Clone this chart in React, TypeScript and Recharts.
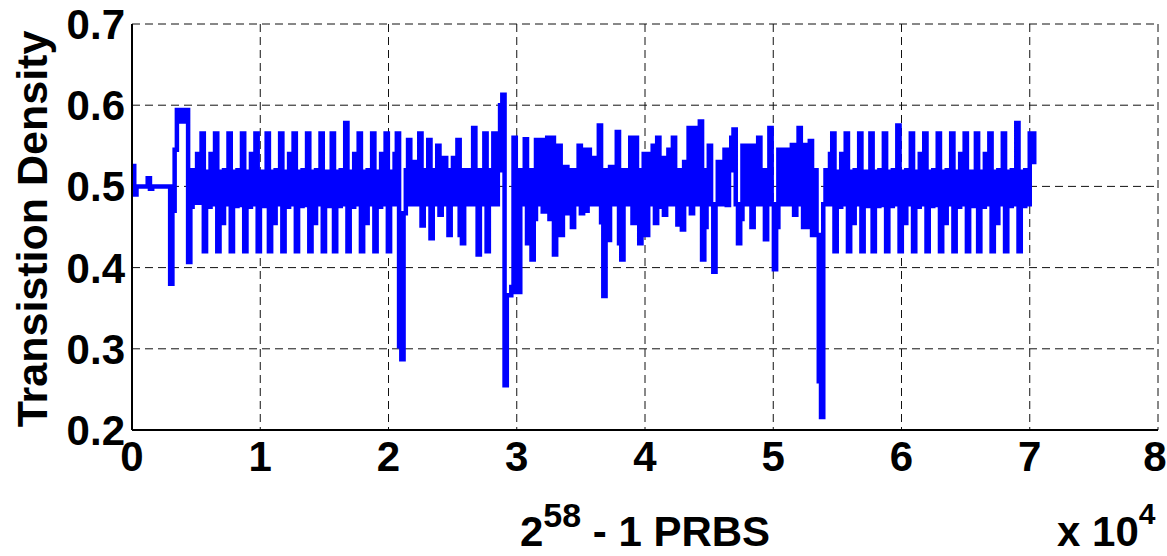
import React from 'react';
import { LineChart, Line, XAxis, YAxis, CartesianGrid, Label } from 'recharts';

// sample spacing along the PRBS axis (bits per sample)
const SAMPLE_STEP = 175;

// 0 .. ~5.4k : start-up region
const START_VALUES = [
  0.525, 0.49, 0.5, 0.5, 0.5, 0.5, 0.5, 0.51, 0.497, 0.5,
  0.5, 0.5, 0.5, 0.5, 0.5, 0.5, 0.5, 0.38, 0.47, 0.545,
  0.594, 0.594, 0.58, 0.58, 0.594, 0.407, 0.475, 0.52, 0.48, 0.54,
  0.48, 0.565,
];

// ~5.6k .. ~20k : regular teeth
const REGULAR_TEETH_A = [
  0.42, 0.518, 0.475, 0.54, 0.478, 0.565,
  0.42, 0.518, 0.455, 0.52, 0.478, 0.565,
  0.42, 0.518, 0.476, 0.52, 0.477, 0.565,
  0.42, 0.518, 0.475, 0.54, 0.478, 0.565,
  0.42, 0.518, 0.476, 0.518, 0.565,
  0.42, 0.518, 0.455, 0.52, 0.478, 0.565,
  0.42, 0.518, 0.475, 0.54, 0.478, 0.565,
  0.42, 0.518, 0.476, 0.52, 0.477, 0.565,
  0.42, 0.518, 0.455, 0.52, 0.478, 0.565,
  0.42, 0.518, 0.476, 0.518, 0.565,
  0.42, 0.518, 0.476, 0.52, 0.478, 0.578,
  0.42, 0.518, 0.475, 0.54, 0.478, 0.565,
  0.42, 0.518, 0.455, 0.52, 0.478, 0.565,
  0.42, 0.518, 0.475, 0.54, 0.478, 0.565,
  0.42,
];

// ~20k .. ~54.6k : irregular region
const IRREGULAR_VALUES = [
  0.518, 0.478, 0.54, 0.565, 0.303, 0.287, 0.467, 0.52, 0.557, 0.478,
  0.53, 0.478, 0.52, 0.565, 0.452, 0.52, 0.478, 0.557, 0.436, 0.52,
  0.478, 0.55, 0.465, 0.52, 0.535, 0.478, 0.44, 0.52, 0.535, 0.478,
  0.557, 0.44, 0.43, 0.52, 0.478, 0.52, 0.478, 0.572, 0.478, 0.416,
  0.52, 0.478, 0.565, 0.42, 0.52, 0.478, 0.565, 0.478, 0.52, 0.6,
  0.613, 0.255, 0.366, 0.366, 0.376, 0.56, 0.37, 0.37, 0.52, 0.478,
  0.558, 0.43, 0.52, 0.41, 0.46, 0.557, 0.478, 0.557, 0.469, 0.52,
  0.56, 0.46, 0.56, 0.416, 0.47, 0.55, 0.44, 0.52, 0.524, 0.467,
  0.52, 0.45, 0.52, 0.478, 0.55, 0.467, 0.545, 0.47, 0.545, 0.478,
  0.535, 0.478, 0.52, 0.575, 0.456, 0.365, 0.52, 0.434, 0.524, 0.478,
  0.52, 0.567, 0.43, 0.41, 0.52, 0.478, 0.52, 0.56, 0.455, 0.56,
  0.478, 0.43, 0.52, 0.54, 0.44, 0.54, 0.478, 0.55, 0.455, 0.56,
  0.475, 0.535, 0.465, 0.52, 0.545, 0.478, 0.56, 0.478, 0.453, 0.52,
  0.447, 0.53, 0.478, 0.572, 0.467, 0.572, 0.478, 0.55, 0.58, 0.41,
  0.45, 0.52, 0.55, 0.478, 0.395, 0.478, 0.53, 0.478, 0.52, 0.545,
  0.477, 0.52, 0.56, 0.57, 0.478, 0.43, 0.46, 0.55, 0.478, 0.52,
  0.55, 0.45, 0.55, 0.478, 0.56, 0.478, 0.52, 0.435, 0.52, 0.572,
  0.478, 0.398, 0.45, 0.545, 0.478, 0.545, 0.478, 0.545, 0.478, 0.551,
  0.465, 0.52, 0.572, 0.478, 0.45, 0.551, 0.45, 0.556, 0.44, 0.52,
  0.44, 0.26, 0.216, 0.478, 0.52, 0.478, 0.54, 0.565,
];

// ~54.8k .. ~70.5k : regular teeth
const REGULAR_TEETH_B = [
  0.42, 0.518, 0.475, 0.54, 0.478, 0.565,
  0.42, 0.518, 0.455, 0.52, 0.478, 0.565,
  0.42, 0.518, 0.476, 0.518, 0.565,
  0.42, 0.518, 0.476, 0.52, 0.477, 0.565,
  0.42, 0.518, 0.476, 0.52, 0.478, 0.575,
  0.42, 0.518, 0.455, 0.52, 0.478, 0.565,
  0.42, 0.518, 0.475, 0.54, 0.478, 0.565,
  0.42, 0.518, 0.476, 0.52, 0.477, 0.565,
  0.42, 0.518, 0.455, 0.52, 0.478, 0.565,
  0.42, 0.518, 0.475, 0.54, 0.478, 0.565,
  0.42, 0.518, 0.476, 0.518, 0.565,
  0.42, 0.518, 0.475, 0.54, 0.478, 0.565,
  0.42, 0.518, 0.455, 0.52, 0.478, 0.565,
  0.42, 0.518, 0.476, 0.52, 0.478, 0.578,
  0.42, 0.518, 0.476, 0.52, 0.478, 0.565, 0.565, 0.53, 0.53,
];

const X_TICKS = [0, 10000, 20000, 30000, 40000, 50000, 60000, 70000, 80000];
const X_TICK_LABELS = ['0', '1', '2', '3', '4', '5', '6', '7', '8'];
const Y_TICKS = [0.2, 0.3, 0.4, 0.5, 0.6, 0.7];
const Y_TICK_LABELS = ['0.2', '0.3', '0.4', '0.5', '0.6', '0.7'];

const Y_TITLE = 'Transistion Density';
const X_TITLE_BASE = '2';
const X_TITLE_SUP = '58';
const X_TITLE_REST = ' - 1 PRBS';
const X_SCALE_BASE = 'x 10';
const X_SCALE_SUP = '4';

const ALL_VALUES = [...START_VALUES, ...REGULAR_TEETH_A, ...IRREGULAR_VALUES, ...REGULAR_TEETH_B];
const data = ALL_VALUES.map((v, i) => ({ x: i * SAMPLE_STEP, y: v }));

const FONT = '"Liberation Sans", Arial, Helvetica, sans-serif';
const tickStyle = { fontSize: 42, fontWeight: 'bold', fill: '#000', fontFamily: FONT };

const XTick = (props: any) => {
  const { x, y, payload } = props;
  const label = X_TICK_LABELS[X_TICKS.indexOf(payload.value)];
  const last = payload.value === X_TICKS[X_TICKS.length - 1];
  return (
    <text x={last ? x - 3 : x} y={y} dy="0.71em" textAnchor="middle" {...tickStyle}>
      {label}
    </text>
  );
};

const XTitle = (props: any) => {
  const vb = props.viewBox || { x: 132, y: 430, width: 1026, height: 126 };
  const cx = vb.x + vb.width / 2;
  const by = vb.y + vb.height - 10;
  return (
    <g>
      <text x={cx} y={by} textAnchor="middle" fontFamily={FONT} fontWeight="bold" fontSize={42} fill="#000">
        <tspan>{X_TITLE_BASE}</tspan>
        <tspan fontSize={34} dy={-19}>{X_TITLE_SUP}</tspan>
        <tspan fontSize={42} dy={19}>{X_TITLE_REST}</tspan>
      </text>
      <text x={vb.x + vb.width - 101} y={by} textAnchor="start" fontFamily={FONT} fontWeight="bold" fontSize={42} fill="#000">
        <tspan>{X_SCALE_BASE}</tspan>
        <tspan fontSize={30} dy={-22}>{X_SCALE_SUP}</tspan>
      </text>
    </g>
  );
};

const YTitle = (props: any) => {
  const vb = props.viewBox || { x: 0, y: 24, width: 132, height: 406 };
  const cx = vb.x + 47;
  const cy = vb.y + vb.height / 2 + 2;
  return (
    <text x={cx} y={cy} transform={`rotate(-90, ${cx}, ${cy})`} textAnchor="middle" fontFamily={FONT} fontWeight="bold" fontSize={43} fill="#000">
      {Y_TITLE}
    </text>
  );
};

export default function App() {
  return (
    <div style={{ position: 'absolute', left: 0, top: 0, width: 1167, height: 556, background: '#fff' }}>
      <LineChart width={1167} height={556} data={data} margin={{ top: 24, right: 9, bottom: 0, left: 0 }}>
        <CartesianGrid stroke="#111" strokeDasharray="8 5" strokeWidth={1} />
        <XAxis
          dataKey="x"
          type="number"
          domain={[0, 80000]}
          ticks={X_TICKS}
          tick={<XTick />}
          tickLine={false}
          tickSize={0}
          tickMargin={11}
          height={126}
          interval={0}
          axisLine={{ stroke: '#000', strokeWidth: 2 }}
        >
          <Label content={<XTitle />} />
        </XAxis>
        <XAxis
          xAxisId="top"
          orientation="top"
          dataKey="x"
          type="number"
          domain={[0, 80000]}
          ticks={X_TICKS}
          tick={false}
          tickLine={false}
          height={0}
          axisLine={{ stroke: '#000', strokeWidth: 2 }}
        />
        <YAxis
          type="number"
          domain={[0.2, 0.7]}
          ticks={Y_TICKS}
          tickFormatter={(v: number) => Y_TICK_LABELS[Y_TICKS.indexOf(v)]}
          tick={tickStyle}
          tickLine={false}
          tickSize={0}
          tickMargin={7}
          width={132}
          interval={0}
          axisLine={{ stroke: '#000', strokeWidth: 2 }}
        >
          <Label content={<YTitle />} />
        </YAxis>
        <YAxis
          yAxisId="right"
          orientation="right"
          type="number"
          domain={[0.2, 0.7]}
          ticks={Y_TICKS}
          tick={false}
          tickLine={false}
          width={0}
          axisLine={{ stroke: '#000', strokeWidth: 2 }}
        />
        <Line
          type="stepAfter"
          dataKey="y"
          stroke="#0000ff"
          strokeWidth={4.5}
          dot={false}
          activeDot={false}
          isAnimationActive={false}
        />
      </LineChart>
    </div>
  );
}
